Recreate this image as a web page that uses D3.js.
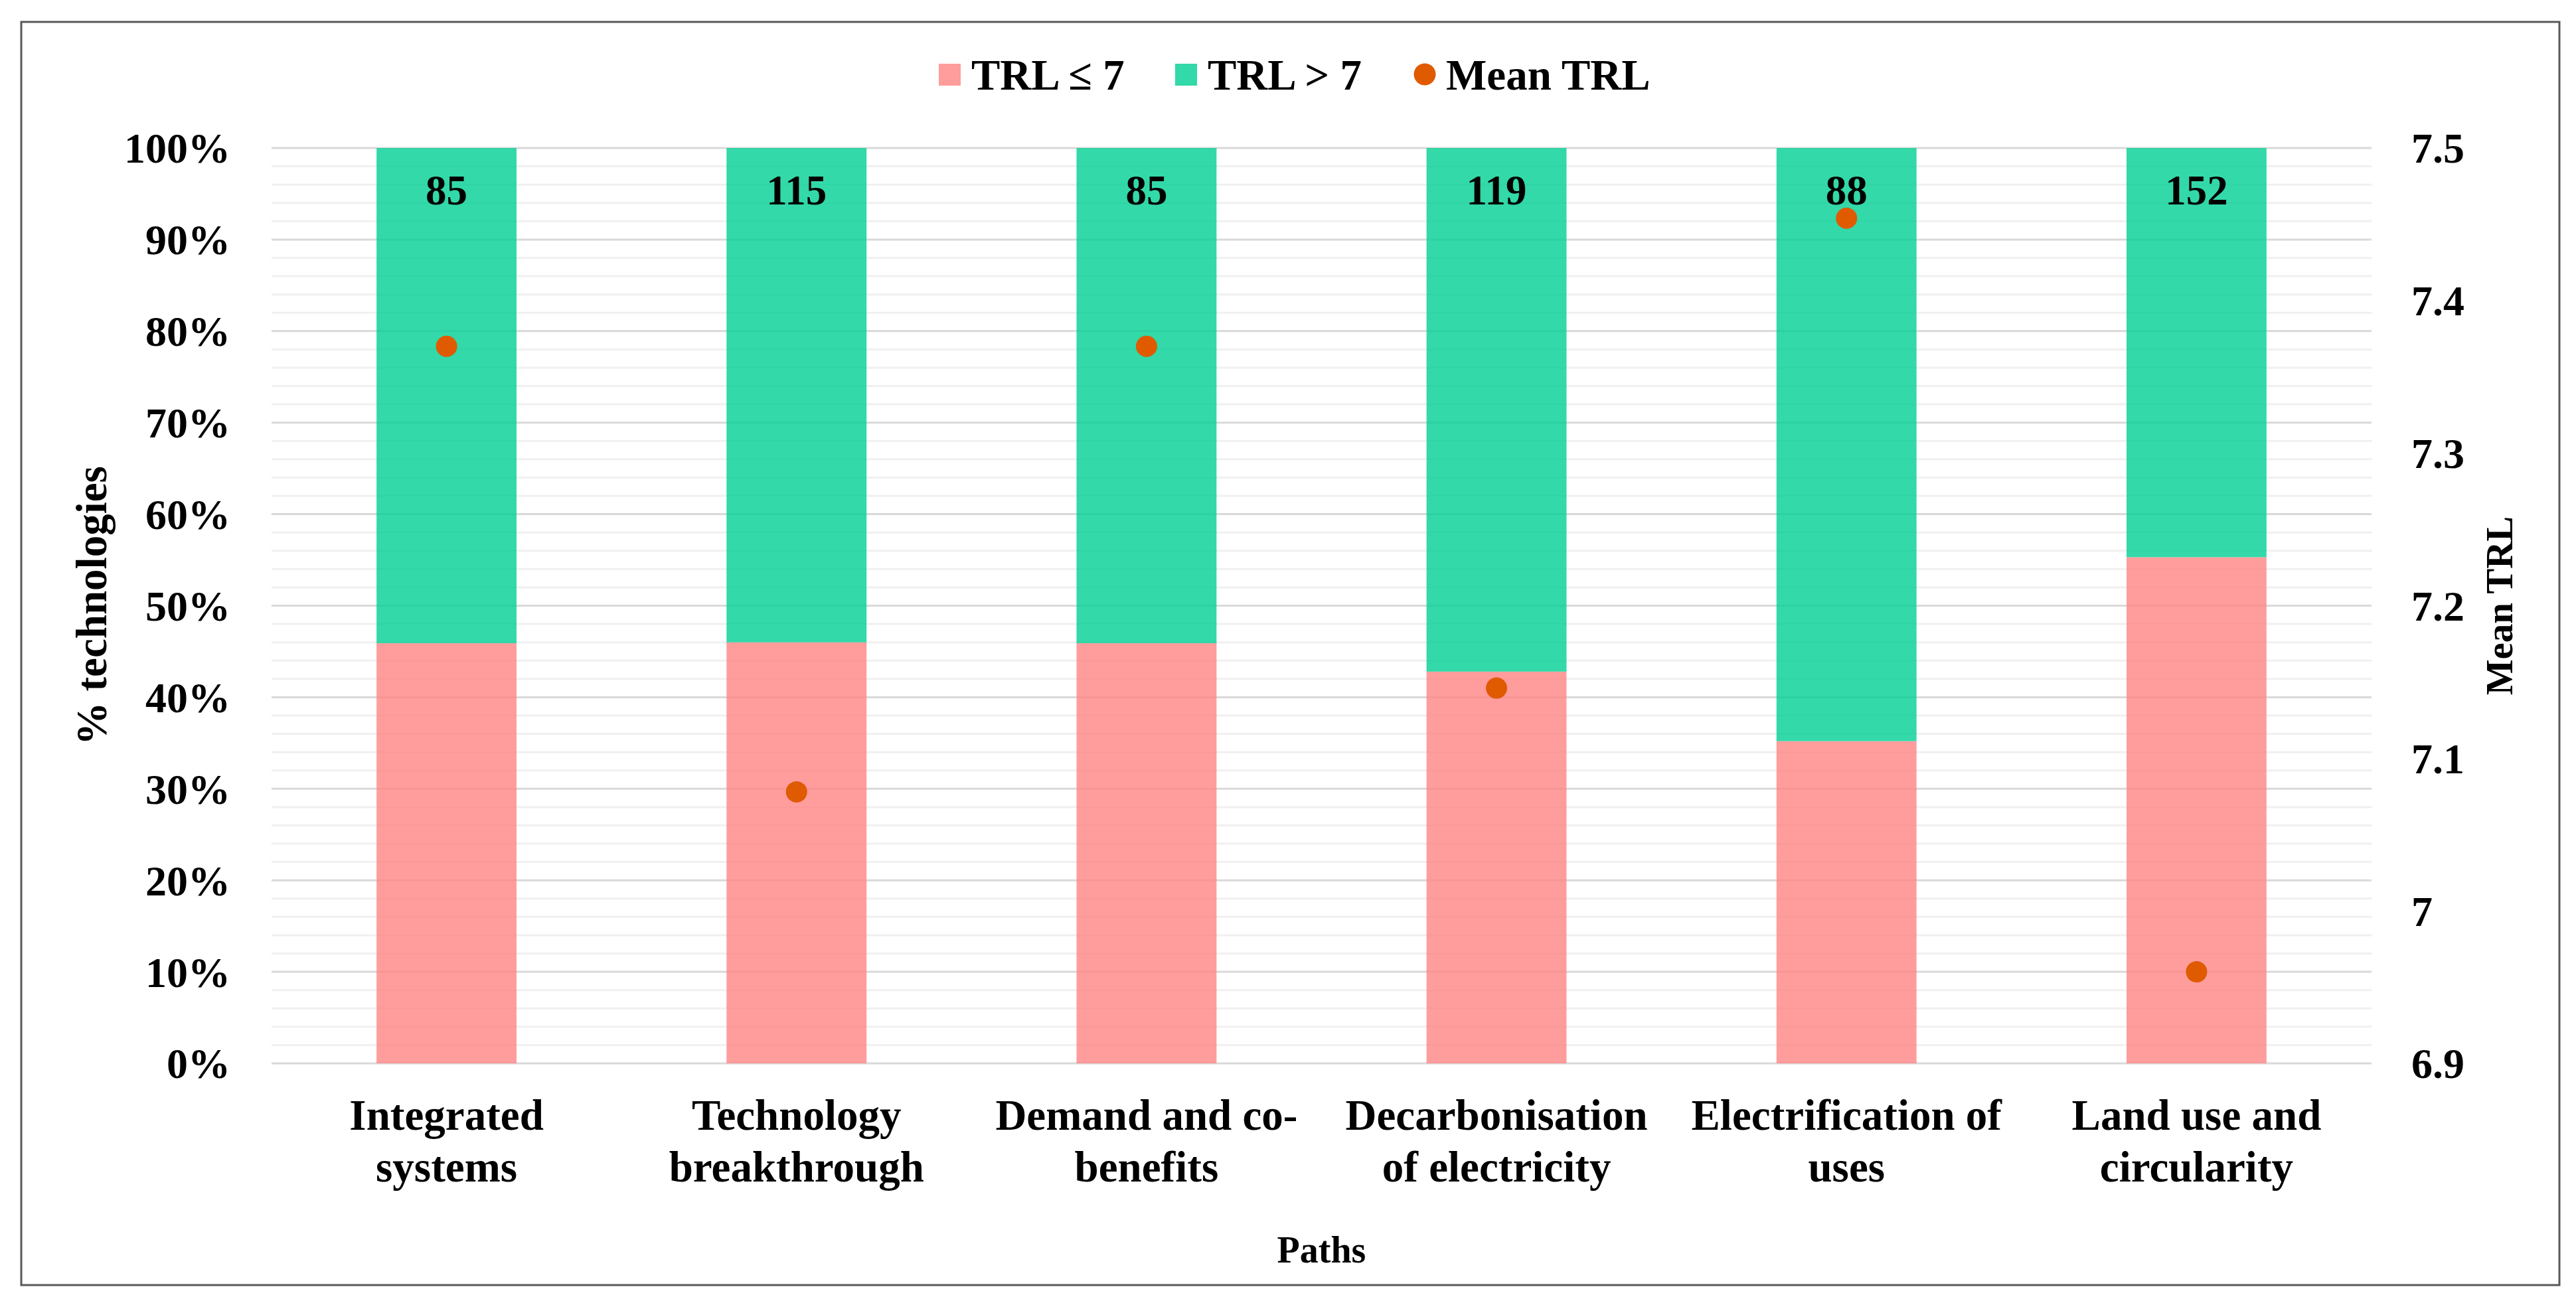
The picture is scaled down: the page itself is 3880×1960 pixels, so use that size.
<!DOCTYPE html>
<html>
<head>
<meta charset="utf-8">
<script src="https://cdn.jsdelivr.net/npm/d3@7"></script>
<style>
  body { margin: 0; background: #fff; }
  text { font-family: "Liberation Serif", "Times New Roman", serif; font-weight: bold; fill: #000; }
</style>
</head>
<body>
<div class="chart-wrapper"></div>
<script>
// data
const paths = [
  ["Integrated", "systems"],
  ["Technology", "breakthrough"],
  ["Demand and co-", "benefits"],
  ["Decarbonisation", "of electricity"],
  ["Electrification of", "uses"],
  ["Land use and", "circularity"]
];
const pctLow = [45.9, 46.0, 45.9, 42.8, 35.2, 55.3];   // TRL <= 7
const pctHigh = [54.1, 54.0, 54.1, 57.2, 64.8, 44.7];  // TRL > 7
const totals = [85, 115, 85, 119, 88, 152];
const meanTrl = [7.37, 7.078, 7.37, 7.146, 7.454, 6.96];
const leftTicks = [0, 10, 20, 30, 40, 50, 60, 70, 80, 90, 100];
const rightTicks = [6.9, 7, 7.1, 7.2, 7.3, 7.4, 7.5];

const colLow = "#ff8585", colHigh = "#00d092", colMean = "#e05a00";

let svg = d3.select(".chart-wrapper").append("svg").attr("width", 3880).attr("height", 1960),
    margin = {top: 223, right: 308, bottom: 358, left: 409},
    width = 3880 - margin.left - margin.right,
    height = 1960 - margin.top - margin.bottom;

// outer frame
svg.append("rect")
  .attr("x", 32).attr("y", 33).attr("width", 3823).attr("height", 1903)
  .attr("fill", "none").attr("stroke", "#595959").attr("stroke-width", 3);

let g = svg.append("g").attr("transform", `translate(${margin.left},${margin.top})`);

let x = d3.scaleBand().domain(d3.range(paths.length)).range([0, width])
  .paddingInner(0.6).paddingOuter(0.3);
let y = d3.scaleLinear().domain([0, 100]).range([height, 0]);
let y2 = d3.scaleLinear().domain([6.9, 7.5]).range([height, 0]);

// gridlines (minor every 2%, major every 10%)
let minor = d3.range(0, 101, 2).filter(v => v % 10 !== 0);
g.selectAll(".minor").data(minor).enter().append("line")
  .attr("x1", 0).attr("x2", width)
  .attr("y1", d => y(d)).attr("y2", d => y(d))
  .attr("stroke", "#f0f0f0").attr("stroke-width", 3);
g.selectAll(".major").data(leftTicks).enter().append("line")
  .attr("x1", 0).attr("x2", width)
  .attr("y1", d => y(d)).attr("y2", d => y(d))
  .attr("stroke", "#d9d9d9").attr("stroke-width", 3);

// stacked bars
let rows = paths.map((p, i) => ({i: i, low: pctLow[i], high: pctHigh[i]}));
let stack = d3.stack().keys(["low", "high"])(rows);
let colors = {low: colLow, high: colHigh};

g.selectAll(".series").data(stack).enter().append("g")
  .attr("fill", d => colors[d.key]).attr("fill-opacity", 0.8)
  .selectAll("rect").data(d => d).enter().append("rect")
  .attr("x", d => x(d.data.i))
  .attr("width", x.bandwidth())
  .attr("y", d => y(d[1]))
  .attr("height", d => y(d[0]) - y(d[1]));

// totals on top of bars
g.selectAll(".total").data(totals).enter().append("text")
  .attr("x", (d, i) => x(i) + x.bandwidth() / 2)
  .attr("y", y(100) + 85)
  .attr("text-anchor", "middle")
  .style("font-size", "63px")
  .text(d => d);

// mean TRL dots
g.selectAll(".mean").data(meanTrl).enter().append("circle")
  .attr("cx", (d, i) => x(i) + x.bandwidth() / 2)
  .attr("cy", d => y2(d))
  .attr("r", 16)
  .attr("fill", colMean);

// left axis labels
g.selectAll(".ltick").data(leftTicks).enter().append("text")
  .attr("x", -62)
  .attr("y", d => y(d))
  .attr("dy", "0.35em")
  .attr("text-anchor", "end")
  .style("font-size", "64px")
  .text(d => d + "%");

// right axis labels
g.selectAll(".rtick").data(rightTicks).enter().append("text")
  .attr("x", width + 60)
  .attr("y", d => y2(d))
  .attr("dy", "0.35em")
  .attr("text-anchor", "start")
  .style("font-size", "64px")
  .text(d => d3.format("~g")(d));

// category labels
let cat = g.selectAll(".cat").data(paths).enter().append("text")
  .attr("text-anchor", "middle")
  .style("font-size", "65px")
  .attr("transform", (d, i) => `translate(${x(i) + x.bandwidth() / 2},${height + 100})`);
cat.selectAll("tspan").data(d => d).enter().append("tspan")
  .attr("x", 0)
  .attr("y", (d, j) => j * 78)
  .text(d => d);

// axis titles
svg.append("text")
  .attr("transform", `translate(${margin.left + width / 2},1902)`)
  .attr("text-anchor", "middle")
  .style("font-size", "56px")
  .text("Paths");

svg.append("text")
  .attr("transform", `translate(160,${margin.top + height / 2}) rotate(-90)`)
  .attr("text-anchor", "middle")
  .style("font-size", "65px")
  .text("% technologies");

svg.append("text")
  .attr("transform", `translate(3784,${margin.top + height / 2}) rotate(-90)`)
  .attr("text-anchor", "middle")
  .style("font-size", "57px")
  .text("Mean TRL");

// legend
let legend = svg.append("g").attr("transform", "translate(1414,135)");
let items = [
  {label: "TRL \u2264 7", color: colLow, type: "rect", x: 0},
  {label: "TRL > 7", color: colHigh, type: "rect", x: 356},
  {label: "Mean TRL", color: colMean, type: "circle", x: 715}
];
items.forEach(it => {
  let li = legend.append("g").attr("transform", `translate(${it.x},0)`);
  if (it.type === "rect") {
    li.append("rect").attr("x", 0).attr("y", -39).attr("width", 33).attr("height", 33)
      .attr("fill", it.color).attr("fill-opacity", 0.8);
  } else {
    li.append("circle").attr("cx", 17).attr("cy", -23).attr("r", 16.5).attr("fill", it.color);
  }
  li.append("text").attr("x", 49).attr("y", 0).style("font-size", "65px").text(it.label);
});
</script>
</body>
</html>
